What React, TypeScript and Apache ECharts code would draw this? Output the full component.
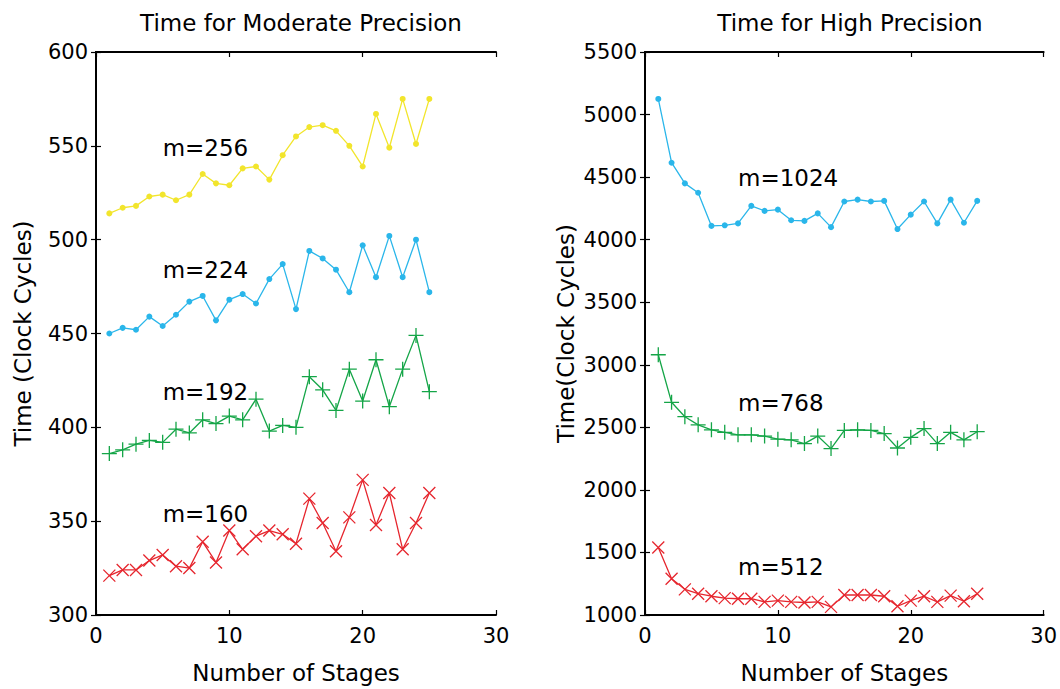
import React, { useEffect, useRef } from "react";
import * as echarts from "echarts";

const stages = [1, 2, 3, 4, 5, 6, 7, 8, 9, 10, 11, 12, 13, 14, 15, 16, 17, 18, 19, 20, 21, 22, 23, 24, 25];

const mod256 = [514, 517, 518, 523, 524, 521, 524, 535, 530, 529, 538, 539, 532, 545, 555, 560, 561, 558, 550, 539, 567, 549, 575, 551, 575];
const mod224 = [450, 453, 452, 459, 454, 460, 467, 470, 457, 468, 471, 466, 479, 487, 463, 494, 490, 484, 472, 497, 480, 502, 480, 500, 472];
const mod192 = [386, 388, 391, 393, 392, 399, 397, 404, 402, 406, 404, 415, 398, 401, 400, 427, 420, 409, 431, 414, 436, 411, 431, 449, 419];
const mod160 = [321, 324, 324, 329, 332, 326, 325, 339, 328, 345, 335, 342, 345, 343, 338, 362, 349, 334, 352, 372, 348, 365, 335, 349, 365];

const high1024 = [5125, 4615, 4450, 4375, 4110, 4115, 4130, 4270, 4230, 4240, 4155, 4150, 4210, 4100, 4305, 4320, 4305, 4310, 4085, 4200, 4305, 4130, 4320, 4135, 4310];
const high768 = [3080, 2700, 2585, 2520, 2480, 2460, 2440, 2440, 2430, 2405, 2400, 2370, 2430, 2330, 2475, 2480, 2475, 2450, 2335, 2420, 2490, 2370, 2460, 2400, 2465];
const high512 = [1540, 1290, 1205, 1170, 1150, 1135, 1130, 1130, 1105, 1115, 1105, 1100, 1105, 1065, 1160, 1160, 1160, 1150, 1070, 1115, 1150, 1105, 1155, 1110, 1170];

const modLabels = ["m=256", "m=224", "m=192", "m=160"];
const modLabelX = [5, 5, 5, 5];
const modLabelY = [549, 484, 419, 354];
const highLabels = ["m=1024", "m=768", "m=512"];
const highLabelX = [7, 7, 7];
const highLabelY = [4490, 2697, 1386];

const titles = ["Time for Moderate Precision", "Time for High Precision"];
const xName = "Number of Stages";
const yNames = ["Time (Clock Cycles)", "Time(Clock Cycles)"];

const FONT = "DejaVu Sans";
const YELLOW = "#f2e52c";
const BLUE = "#2ab6ea";
const GREEN = "#14a547";
const RED = "#e6262e";

const PLUS = "path://M5,0L5,10M0,5L10,5";
const CROSS = "path://M0,0L10,10M0,10L10,0";

export default function App() {
  const ref = useRef<HTMLDivElement>(null);
  useEffect(() => {
    document.body.style.margin = "0";
    const chart = echarts.init(ref.current!, undefined, { renderer: "svg" });
    const axisLine = { show: true, lineStyle: { color: "#000", width: 2 } };
    const tick = { show: true, inside: true, length: 5, lineStyle: { color: "#000", width: 1.2 } };
    const labelStyle = { color: "#000", fontFamily: FONT, fontSize: 21, formatter: (v: number) => String(v) };

    const mkX = (gridIndex: number, pos: "top" | "bottom") => ({
      type: "value",
      gridIndex,
      position: pos,
      min: 0,
      max: 30,
      interval: 10,
      axisLine,
      axisTick: tick,
      splitLine: { show: false },
      axisLabel: pos === "bottom" ? { ...labelStyle, margin: 10 } : { show: false },
      name: pos === "bottom" ? xName : "",
      nameLocation: "middle",
      nameGap: 46,
      nameTextStyle: { color: "#000", fontFamily: FONT, fontSize: 23 },
    });
    const mkY = (gridIndex: number, pos: "left" | "right", min: number, max: number, interval: number, nm: string, gap: number) => ({
      type: "value",
      gridIndex,
      position: pos,
      min,
      max,
      interval,
      axisLine,
      axisTick: tick,
      splitLine: { show: false },
      axisLabel: pos === "left" ? { ...labelStyle, margin: 8 } : { show: false },
      name: pos === "left" ? nm : "",
      nameLocation: "middle",
      nameGap: gap,
      nameRotate: 90,
      nameTextStyle: { color: "#000", fontFamily: FONT, fontSize: 23 },
    });

    const line = (data: number[], color: string, symbol: string, size: number, xi: number, yi: number, stroke: boolean) => ({
      type: "line",
      xAxisIndex: xi,
      yAxisIndex: yi,
      data: stages.map((s, i) => [s, data[i]]),
      symbol,
      symbolSize: size,
      showSymbol: true,
      lineStyle: { color, width: 1.3 },
      itemStyle: stroke
        ? { color: "none", borderColor: color, borderWidth: 1.3 }
        : { color, borderWidth: 0 },
      emphasis: { disabled: true },
      z: 3,
    });

    const annot = (labels: string[], xs: number[], ys: number[], xi: number, yi: number) => ({
      type: "scatter",
      xAxisIndex: xi,
      yAxisIndex: yi,
      symbolSize: 0,
      itemStyle: { color: "#000", opacity: 1 },
      data: labels.map((l, i) => [xs[i], ys[i], l]),
      emphasis: { disabled: true },
      label: {
        show: true,
        position: "right",
        distance: 0,
        formatter: (p: any) => p.value[2],
        color: "#000",
        opacity: 1,
        fontFamily: FONT,
        fontSize: 23,
      },
      z: 5,
    });

    chart.setOption({
      animation: false,
      backgroundColor: "#fff",
      title: [
        { text: titles[0], left: 296, top: 6, textAlign: "center", textStyle: { color: "#000", fontFamily: FONT, fontSize: 23, fontWeight: "normal" } },
        { text: titles[1], left: 845, top: 6, textAlign: "center", textStyle: { color: "#000", fontFamily: FONT, fontSize: 23, fontWeight: "normal" } },
      ],
      grid: [
        { left: 96, right: 564, top: 52, bottom: 70 },
        { left: 645, right: 16, top: 52, bottom: 70 },
      ],
      xAxis: [mkX(0, "bottom"), mkX(0, "top"), mkX(1, "bottom"), mkX(1, "top")],
      yAxis: [
        mkY(0, "left", 300, 600, 50, yNames[0], 62),
        mkY(0, "right", 300, 600, 50, "", 0),
        mkY(1, "left", 1000, 5500, 500, yNames[1], 68),
        mkY(1, "right", 1000, 5500, 500, "", 0),
      ],
      series: [
        line(mod256, YELLOW, "circle", 6, 0, 0, false),
        line(mod224, BLUE, "circle", 6, 0, 0, false),
        line(mod192, GREEN, PLUS, 15, 0, 0, true),
        line(mod160, RED, CROSS, 12, 0, 0, true),
        line(high1024, BLUE, "circle", 6, 2, 2, false),
        line(high768, GREEN, PLUS, 15, 2, 2, true),
        line(high512, RED, CROSS, 12, 2, 2, true),
        annot(modLabels, modLabelX, modLabelY, 0, 0),
        annot(highLabels, highLabelX, highLabelY, 2, 2),
      ],
    });
    return () => chart.dispose();
  }, []);
  return <div ref={ref} style={{ width: 1060, height: 689 }} />;
}
